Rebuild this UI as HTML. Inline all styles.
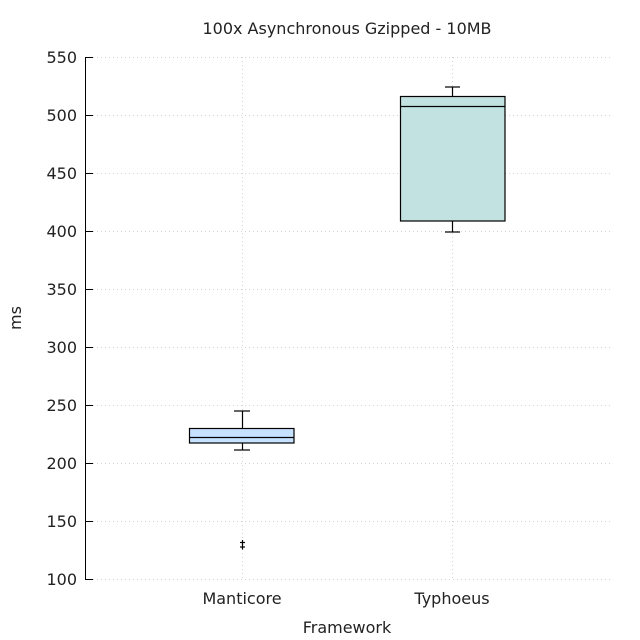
<!DOCTYPE html>
<html><head><style>body{margin:0;background:#fff}svg{display:block}</style></head><body>
<svg width="640" height="640" xmlns="http://www.w3.org/2000/svg" font-family="DejaVu Sans, sans-serif" font-size="16" fill="#222">
<rect width="640" height="640" fill="#fff"/>
<g stroke="#d4d4d4" stroke-width="1" stroke-dasharray="1,3">
<line x1="93" y1="57.5" x2="610" y2="57.5"/>
<line x1="93" y1="115.5" x2="610" y2="115.5"/>
<line x1="93" y1="173.5" x2="610" y2="173.5"/>
<line x1="93" y1="231.5" x2="610" y2="231.5"/>
<line x1="93" y1="289.5" x2="610" y2="289.5"/>
<line x1="93" y1="347.5" x2="610" y2="347.5"/>
<line x1="93" y1="405.5" x2="610" y2="405.5"/>
<line x1="93" y1="463.5" x2="610" y2="463.5"/>
<line x1="93" y1="521.5" x2="610" y2="521.5"/>
<line x1="93" y1="579.5" x2="610" y2="579.5"/>
<line x1="242.5" y1="57" x2="242.5" y2="579"/>
<line x1="452.5" y1="57" x2="452.5" y2="579"/>
</g>
<g stroke="#000" stroke-width="1">
<line x1="85.5" y1="57" x2="85.5" y2="579.5"/>
<line x1="85" y1="57.5" x2="93" y2="57.5"/>
<line x1="85" y1="115.5" x2="93" y2="115.5"/>
<line x1="85" y1="173.5" x2="93" y2="173.5"/>
<line x1="85" y1="231.5" x2="93" y2="231.5"/>
<line x1="85" y1="289.5" x2="93" y2="289.5"/>
<line x1="85" y1="347.5" x2="93" y2="347.5"/>
<line x1="85" y1="405.5" x2="93" y2="405.5"/>
<line x1="85" y1="463.5" x2="93" y2="463.5"/>
<line x1="85" y1="521.5" x2="93" y2="521.5"/>
<line x1="85" y1="579.5" x2="93" y2="579.5"/>
</g>
<g text-anchor="end">
<text x="77" y="63">550</text><text x="77" y="121">500</text><text x="77" y="179">450</text>
<text x="77" y="237">400</text><text x="77" y="295">350</text><text x="77" y="353">300</text>
<text x="77" y="411">250</text><text x="77" y="469">200</text><text x="77" y="527">150</text>
<text x="77" y="585">100</text>
</g>
<text x="242" y="604" text-anchor="middle">Manticore</text>
<text x="452" y="604" text-anchor="middle">Typhoeus</text>
<text x="347" y="633" text-anchor="middle">Framework</text>
<text x="347" y="34" text-anchor="middle">100x Asynchronous Gzipped - 10MB</text>
<text x="21" y="318" text-anchor="middle" transform="rotate(-90 21 318)">ms</text>
<g stroke="#000" stroke-width="1.2">
<line x1="242.5" y1="411" x2="242.5" y2="429"/><line x1="234" y1="411" x2="250" y2="411"/>
<line x1="242.5" y1="443" x2="242.5" y2="450"/><line x1="234" y1="450" x2="250" y2="450"/>
<rect x="189.5" y="428.5" width="104.5" height="14.5" fill="#c6e2ff"/>
<line x1="189.5" y1="437.5" x2="294" y2="437.5"/>
<line x1="240" y1="542.5" x2="245" y2="542.5"/><line x1="242.5" y1="540" x2="242.5" y2="545"/>
<line x1="240" y1="547" x2="245" y2="547"/><line x1="242.5" y1="544.5" x2="242.5" y2="549.5"/>
<line x1="452.5" y1="87" x2="452.5" y2="96"/><line x1="445" y1="87" x2="460" y2="87"/>
<line x1="452.5" y1="221" x2="452.5" y2="232"/><line x1="445" y1="232" x2="460" y2="232"/>
<rect x="400.5" y="96.5" width="104.5" height="124.5" fill="#c2e2e2"/>
<line x1="400.5" y1="106.5" x2="505" y2="106.5"/>
</g>
</svg>
</body></html>
